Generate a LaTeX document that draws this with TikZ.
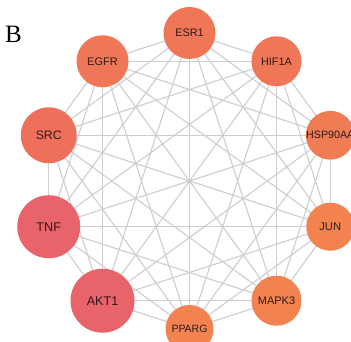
\documentclass[tikz,border=0pt]{standalone}
\usepackage{fontspec}
\setmainfont{Liberation Serif}
\newfontfamily\arialf{Liberation Sans}
\usetikzlibrary{backgrounds,calc}
\definecolor{edgec}{HTML}{CBCED2}
\definecolor{txtc}{HTML}{2E1A1A}
\definecolor{cRed}{HTML}{E9636A}
\definecolor{cSrc}{HTML}{EE6F5A}
\definecolor{cMid}{HTML}{EF7757}
\definecolor{cHsp}{HTML}{F07C54}
\definecolor{cOra}{HTML}{F2824F}
\tikzset{
  gene/.style={circle, inner sep=0pt, text=txtc, font=\arialf\fontsize{#1}{#1}\selectfont},
  link/.style={draw=edgec, line width=1.1pt},
}
\begin{document}
\begin{tikzpicture}[x=1pt,y=1pt]
\useasboundingbox (0,0) rectangle (351,342);
\coordinate (O) at (189.5,161);
\def\R{148}
\node[gene=10.9, fill=cMid, minimum size=52] (n0) at ($(O)+(90:\R)$) {ESR1};
\node[gene=11, fill=cMid, minimum size=52] (n1) at ($(O)+(126:\R)$) {EGFR};
\node[gene=12.3, fill=cSrc, minimum size=56] (n2) at ($(O)+(162:\R)$) {SRC};
\node[gene=12.6, fill=cRed, minimum size=63] (n3) at ($(O)+(198:\R)$) {TNF};
\node[gene=12.6, fill=cRed, minimum size=64] (n4) at ($(O)+(234:\R)$) {AKT1};
\node[gene=10.5, fill=cOra, minimum size=48] (n5) at ($(O)+(270:\R)$) {PPARG};
\node[gene=11, fill=cOra, minimum size=50] (n6) at ($(O)+(306:\R)$) {MAPK3};
\node[gene=11.2, fill=cOra, minimum size=48] (n7) at ($(O)+(342:\R)$) {JUN};
\node[gene=10.7, fill=cHsp, minimum size=48] (n8) at ($(O)+(18:\R)$) {HSP90AA};
\node[gene=10.9, fill=cMid, minimum size=50] (n9) at ($(O)+(54:\R)$) {HIF1A};
\begin{scope}[on background layer]
\fill[white] (0,0) rectangle (351,342);
\foreach \i in {0,...,8}{
  \pgfmathtruncatemacro{\s}{\i+1}
  \foreach \j in {\s,...,9}{
    \draw[link] (n\i.center) -- (n\j.center);
  }
}
\end{scope}
\node[font=\fontsize{25}{25}\selectfont, inner sep=0pt] (lab) at (13.5,308) {B};
\end{tikzpicture}
\end{document}
